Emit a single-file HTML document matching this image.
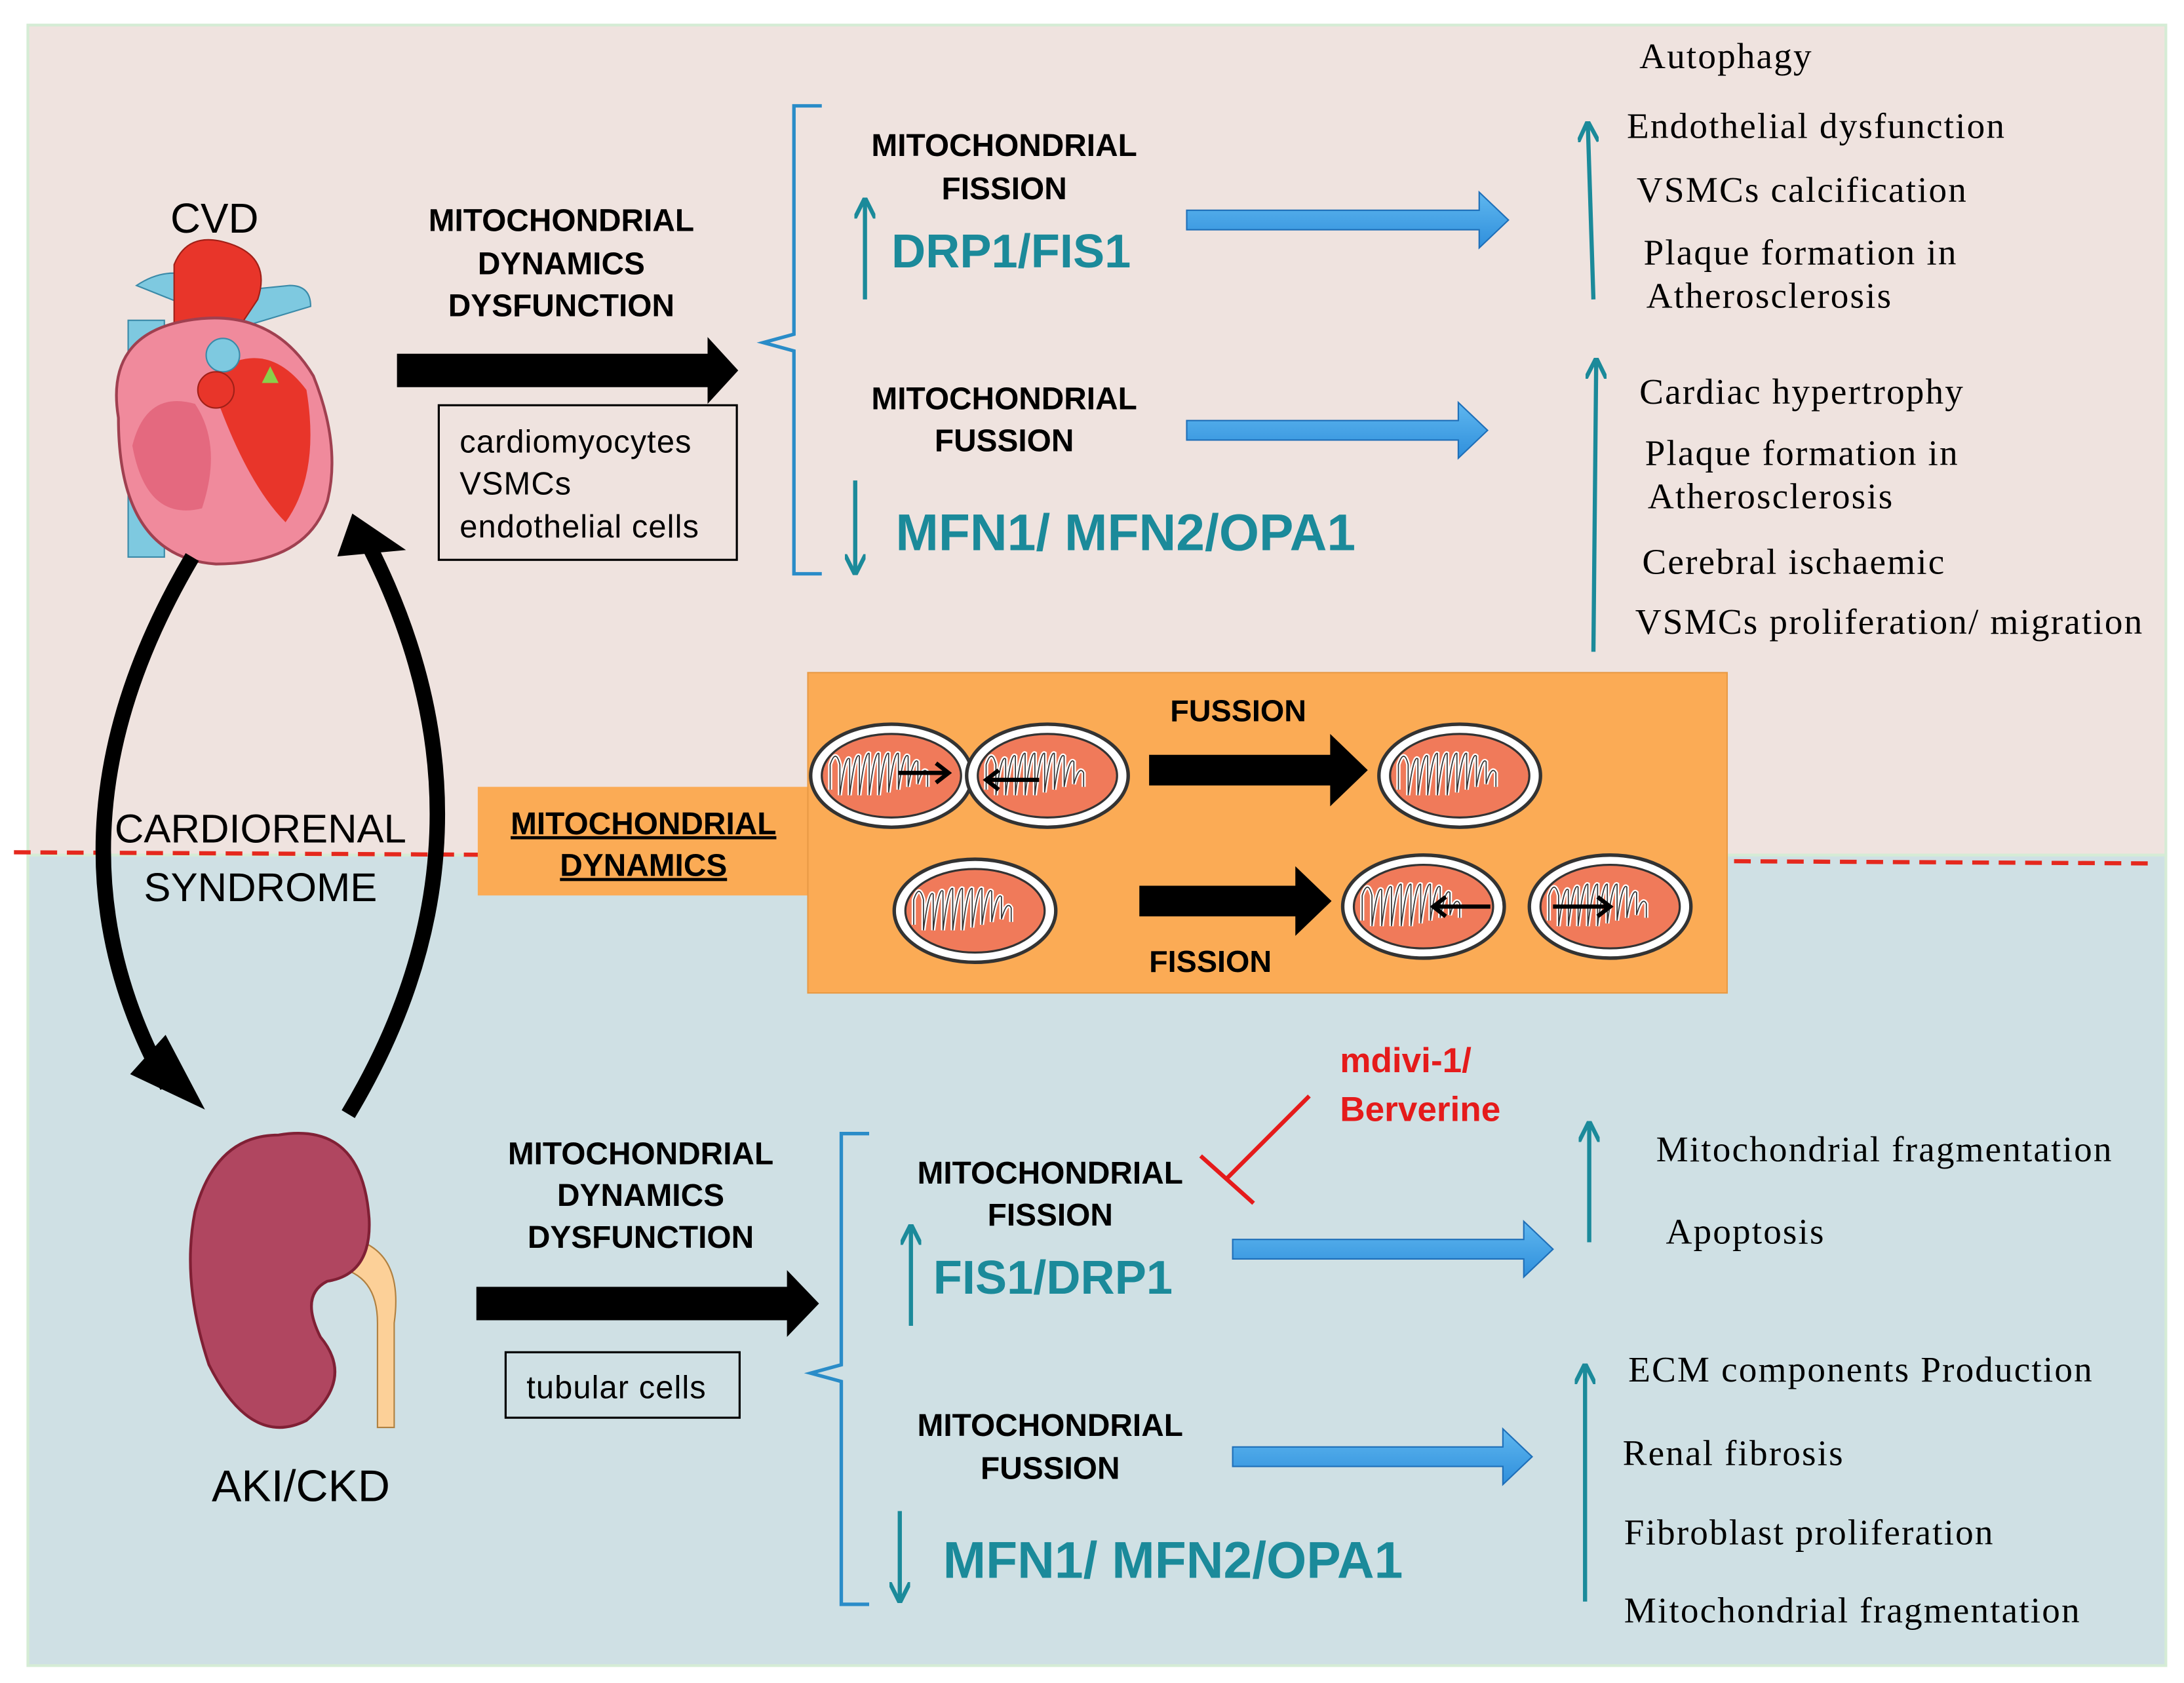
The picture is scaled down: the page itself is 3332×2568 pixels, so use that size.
<!DOCTYPE html>
<html><head><meta charset="utf-8"><style>
html,body{margin:0;padding:0;background:#fff}
svg{display:block}
.b{font-family:"Liberation Sans",sans-serif;font-weight:bold}
.s{font-family:"Liberation Sans",sans-serif}
.r{font-family:"Liberation Serif",serif}
</style></head><body>
<svg width="3332" height="2568" viewBox="0 0 1568 1208.5" xmlns="http://www.w3.org/2000/svg">
<defs>
<marker id="ta" viewBox="0 0 10 10" refX="8" refY="5" markerWidth="5" markerHeight="5" orient="auto"><path d="M0,0 L10,5 L0,10" fill="none" stroke="#1b8a9a" stroke-width="2"/></marker>
<linearGradient id="bl" x1="0" y1="0" x2="0" y2="1"><stop offset="0" stop-color="#5fb7ef"/><stop offset="1" stop-color="#2f8fdc"/></linearGradient>
<g id="mito"><ellipse cx="0" cy="0" rx="58" ry="37" fill="#fff" stroke="#333" stroke-width="2.5"/><ellipse cx="0" cy="0" rx="50" ry="30" fill="#f07a5a" stroke="#333" stroke-width="1.5"/>
<path d="M-44,10 v-18 q4,-12 7,0 v22 q4,-30 7,-26 v26 q4,-32 7,-28 v28 q4,-32 7,-30 v30 q4,-32 7,-30 v30 q4,-32 7,-30 v28 q4,-30 7,-28 v26 q4,-28 7,-24 v22 q4,-22 7,-18 v16 q4,-14 7,-8 v10" fill="none" stroke="#fff" stroke-width="3"/>
<path d="M-44,10 v-18 q4,-12 7,0 v22 q4,-30 7,-26 v26 q4,-32 7,-28 v28 q4,-32 7,-30 v30 q4,-32 7,-30 v30 q4,-32 7,-30 v28 q4,-30 7,-28 v26 q4,-28 7,-24 v22 q4,-22 7,-18 v16 q4,-14 7,-8 v10" fill="none" stroke="#333" stroke-width="0.8"/></g>
</defs>
<rect width="1568" height="1208.5" fill="#fff"/>
<rect x="20" y="18" width="1535" height="596" fill="#efe3df" stroke="#d5ecd5" stroke-width="2"/>
<rect x="20" y="614" width="1535" height="582" fill="#cfe0e4" stroke="#d5ecd5" stroke-width="2"/>
<line x1="10" y1="612" x2="1548" y2="620" stroke="#e5281d" stroke-width="3" stroke-dasharray="12,7"/>

<text x="154" y="167" class="s" font-size="30" text-anchor="middle">CVD</text>
<g>
<rect x="92" y="230" width="26" height="170" fill="#7ec9e0" stroke="#3a8aa8"/>
<path d="M98,205 q30,-20 60,5 l50,-5 q15,0 15,15 l-50,15z" fill="#7ec9e0" stroke="#3a8aa8"/>
<path d="M125,190 q10,-25 40,-15 q30,10 20,40 l-20,30 -40,0z" fill="#e8352a" stroke="#a02018"/>
<path d="M85,300 q-10,-60 50,-70 q60,-10 90,40 q20,50 10,90 q-15,45 -80,45 q-70,-5 -70,-105z" fill="#f08a9c" stroke="#a04050" stroke-width="2"/>
<path d="M150,270 q40,-30 70,10 q10,60 -15,95 q-30,-30 -55,-105z" fill="#e8352a"/>
<path d="M95,320 q10,-40 45,-30 q20,30 5,75 q-40,10 -50,-45z" fill="#e4697f"/>
<circle cx="160" cy="255" r="12" fill="#7ec9e0" stroke="#3a8aa8"/>
<circle cx="155" cy="280" r="13" fill="#e8352a" stroke="#a02018"/>
<path d="M188,275 l6,-12 6,12z" fill="#8ad04a"/>
</g>
<g class="b" font-size="22.5" text-anchor="middle">
<text x="403" y="166">MITOCHONDRIAL</text>
<text x="403" y="197">DYNAMICS</text>
<text x="403" y="227">DYSFUNCTION</text>
</g>
<path d="M285,254 H508 V242 L530,266 L508,290 V278 H285Z" fill="#000"/>
<rect x="315" y="291" width="214" height="111" fill="none" stroke="#000" stroke-width="1.5"/>
<g class="s" font-size="23" letter-spacing="0.5">
<text x="330" y="325">cardiomyocytes</text>
<text x="330" y="355">VSMCs</text>
<text x="330" y="386">endothelial cells</text>
</g>
<path d="M590,76 h-20 v164 l-22,6 l22,6 v160 h20" fill="none" stroke="#2a8cc8" stroke-width="2.5"/>
<g class="b" font-size="22.5" text-anchor="middle">
<text x="721" y="112">MITOCHONDRIAL</text>
<text x="721" y="143">FISSION</text>
<text x="721" y="294">MITOCHONDRIAL</text>
<text x="721" y="324">FUSSION</text>
</g>
<line x1="621" y1="215" x2="621" y2="145" stroke="#1b8a9a" stroke-width="3" marker-end="url(#ta)"/>
<text x="640" y="192" class="b" font-size="34" fill="#1b8a9a">DRP1/FIS1</text>
<path d="M852,151 H1062 V138 L1083,158 L1062,178 V165 H852Z" fill="url(#bl)" stroke="#1f6fb8"/>
<line x1="614" y1="345" x2="614" y2="410" stroke="#1b8a9a" stroke-width="3" marker-end="url(#ta)"/>
<text x="643" y="395" class="b" font-size="37" fill="#1b8a9a">MFN1/ MFN2/OPA1</text>
<path d="M852,302 H1047 V289 L1068,309 L1047,329 V316 H852Z" fill="url(#bl)" stroke="#1f6fb8"/>
<line x1="1144" y1="215" x2="1140" y2="90" stroke="#1b8a9a" stroke-width="3" marker-end="url(#ta)"/>
<line x1="1144" y1="468" x2="1146" y2="260" stroke="#1b8a9a" stroke-width="3" marker-end="url(#ta)"/>
<g class="r" font-size="26" letter-spacing="1">
<text x="1177" y="49">Autophagy</text>
<text x="1168" y="99">Endothelial dysfunction</text>
<text x="1175" y="145">VSMCs calcification</text>
<text x="1180" y="190">Plaque formation in</text>
<text x="1182" y="221">Atherosclerosis</text>
<text x="1177" y="290">Cardiac hypertrophy</text>
<text x="1181" y="334">Plaque formation in</text>
<text x="1183" y="365">Atherosclerosis</text>
<text x="1179" y="412">Cerebral ischaemic</text>
<text x="1174" y="455">VSMCs proliferation/ migration</text>
</g>

<path d="M138,400 Q20,600 120,780" fill="none" stroke="#000" stroke-width="11"/>
<path d="M100,770 L138,788 L118,750Z" fill="#000" stroke="#000" stroke-width="8"/>
<path d="M250,800 Q370,600 265,392" fill="none" stroke="#000" stroke-width="11"/>
<path d="M248,395 L255,375 L280,392Z" fill="#000" stroke="#000" stroke-width="8"/>
<text x="187" y="605" class="s" font-size="29" text-anchor="middle">CARDIORENAL</text>
<text x="187" y="647" class="s" font-size="29" text-anchor="middle">SYNDROME</text>

<rect x="343" y="565" width="240" height="78" fill="#fbab55"/>
<g class="b" font-size="22.5" text-anchor="middle" text-decoration="underline">
<text x="462" y="599">MITOCHONDRIAL</text>
<text x="462" y="629">DYNAMICS</text>
</g>
<rect x="580" y="483" width="660" height="230" fill="#fbab55" stroke="#e89a45"/>
<use href="#mito" x="640" y="557"/>
<use href="#mito" x="752" y="557"/>
<use href="#mito" x="1048" y="557"/>
<use href="#mito" x="700" y="654"/>
<use href="#mito" x="1022" y="651"/>
<use href="#mito" x="1156" y="651"/>
<g stroke="#000" stroke-width="3" fill="none">
<path d="M645,555 h35 M672,548 l9,7 -9,7"/>
<path d="M746,560 h-37 M717,553 l-9,7 9,7"/>
<path d="M1070,651 h-40 M1038,644 l-9,7 9,7"/>
<path d="M1115,651 h40 M1147,644 l9,7 -9,7"/>
</g>
<text x="889" y="518" class="b" font-size="22" text-anchor="middle">FUSSION</text>
<path d="M825,542 H955 V527 L982,553 L955,579 V564 H825Z" fill="#000"/>
<path d="M818,636 H930 V622 L956,647 L930,672 V658 H818Z" fill="#000"/>
<text x="869" y="698" class="b" font-size="22" text-anchor="middle">FISSION</text>

<path d="M255,890 q35,10 28,60 v75 h-12 v-75 q0,-35 -30,-40z" fill="#fcd098" stroke="#b08040"/>
<path d="M200,815 q60,-10 65,60 q2,40 -30,45 q-20,10 -5,40 q25,30 -10,60 q-40,20 -70,-40 q-20,-60 -10,-110 q15,-55 60,-55z" fill="#b04660" stroke="#802035" stroke-width="2"/>
<text x="216" y="1078" class="s" font-size="32" text-anchor="middle">AKI/CKD</text>

<g class="b" font-size="22.5" text-anchor="middle">
<text x="460" y="836">MITOCHONDRIAL</text>
<text x="460" y="866">DYNAMICS</text>
<text x="460" y="896">DYSFUNCTION</text>
<text x="754" y="850">MITOCHONDRIAL</text>
<text x="754" y="880">FISSION</text>
<text x="754" y="1031">MITOCHONDRIAL</text>
<text x="754" y="1062">FUSSION</text>
</g>
<path d="M342,924 H565 V912 L588,936 L565,960 V948 H342Z" fill="#000"/>
<rect x="363" y="971" width="168" height="47" fill="none" stroke="#000" stroke-width="1.5"/>
<text x="378" y="1004" class="s" font-size="23" letter-spacing="0.5">tubular cells</text>
<path d="M624,814 h-20 v166 l-22,6 l22,6 v160 h20" fill="none" stroke="#2a8cc8" stroke-width="2.5"/>
<line x1="654" y1="952" x2="654" y2="882" stroke="#1b8a9a" stroke-width="3" marker-end="url(#ta)"/>
<text x="670" y="929" class="b" font-size="34" fill="#1b8a9a">FIS1/DRP1</text>
<path d="M885,890 H1094 V877 L1115,897 L1094,917 V904 H885Z" fill="url(#bl)" stroke="#1f6fb8"/>
<text x="962" y="770" class="b" font-size="25" fill="#e51b1b">mdivi-1/</text>
<text x="962" y="805" class="b" font-size="25" fill="#e51b1b">Berverine</text>
<line x1="940" y1="787" x2="880" y2="847" stroke="#e51b1b" stroke-width="3"/>
<line x1="862" y1="830" x2="900" y2="864" stroke="#e51b1b" stroke-width="3"/>
<line x1="646" y1="1085" x2="646" y2="1148" stroke="#1b8a9a" stroke-width="3" marker-end="url(#ta)"/>
<text x="677" y="1133" class="b" font-size="37" fill="#1b8a9a">MFN1/ MFN2/OPA1</text>
<path d="M885,1039 H1079 V1026 L1100,1046 L1079,1066 V1053 H885Z" fill="url(#bl)" stroke="#1f6fb8"/>
<line x1="1141" y1="892" x2="1141" y2="808" stroke="#1b8a9a" stroke-width="3" marker-end="url(#ta)"/>
<line x1="1138" y1="1150" x2="1138" y2="982" stroke="#1b8a9a" stroke-width="3" marker-end="url(#ta)"/>
<g class="r" font-size="26" letter-spacing="1">
<text x="1189" y="834">Mitochondrial fragmentation</text>
<text x="1196" y="893">Apoptosis</text>
<text x="1169" y="992">ECM  components Production</text>
<text x="1165" y="1052">Renal fibrosis</text>
<text x="1166" y="1109">Fibroblast proliferation</text>
<text x="1166" y="1165">Mitochondrial fragmentation</text>
</g>
</svg>
</body></html>
